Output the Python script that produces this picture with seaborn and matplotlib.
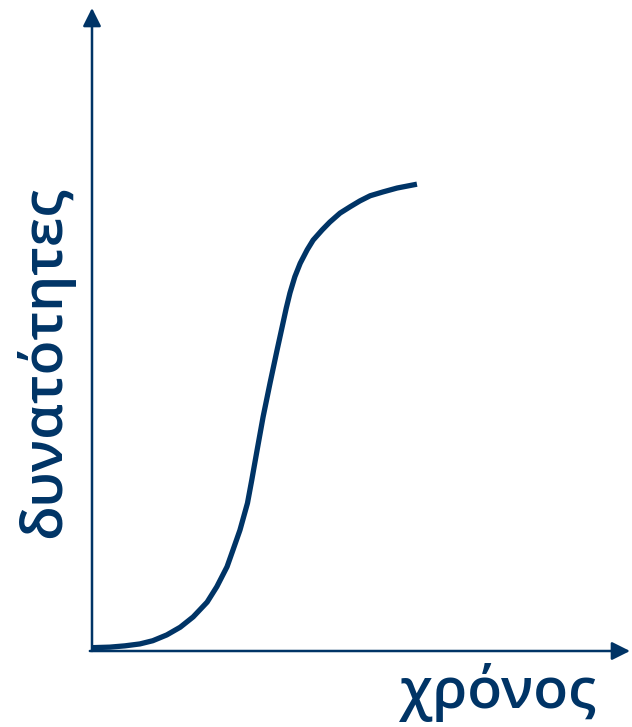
import matplotlib
matplotlib.use("Agg")
import matplotlib.pyplot as plt
import seaborn as sns
import pandas as pd

# (x: time 0-100, y: capability 0-100)
time_vals = [-0.7, 3.3, 6.1, 8.9, 11.3, 13.9, 16.4, 18.8, 21.4, 23.2, 25.1, 26.2,
             27.5, 28.9, 29.7, 30.7, 31.8, 33.1, 34.4, 35.5, 36.1, 36.8, 37.7, 38.7,
             40.0, 41.1, 42.8, 44.2, 46.1, 48.0, 49.8, 51.7, 54.1, 56.7, 60.4]
capability_vals = [0.5, 0.6, 0.8, 1.1, 1.6, 2.5, 3.7, 5.3, 7.6, 10.0, 13.1, 15.7,
                   18.8, 23.0, 26.6, 31.3, 36.4, 41.7, 46.8, 51.0, 53.3, 55.7, 58.2, 60.3,
                   62.4, 63.9, 65.5, 66.7, 68.1, 69.1, 70.0, 70.8, 71.4, 72.0, 72.6]
x_label = "χρόνος"
y_label = "δυνατότητες"

COLOR = "#003466"

sns.set_style("white")
plt.rcParams["font.family"] = ["Open Sans", "DejaVu Sans"]

W, H = 632, 727
fig = plt.figure(figsize=(W / 100, H / 100), dpi=100)
x0, x1 = 92, 630
y0, y1 = 651, 8
ax = fig.add_axes([x0 / W, (H - y0) / H, (x1 - x0) / W, (y0 - y1) / H])
ax.set_xlim(0, 100)
ax.set_ylim(0, 100)
ax.patch.set_alpha(0)

df = pd.DataFrame({"t": time_vals, "c": capability_vals})
sns.lineplot(data=df, x="t", y="c", ax=ax, color=COLOR, lw=3.8, sort=False,
             solid_capstyle="butt", solid_joinstyle="round")

for s in ax.spines.values():
    s.set_visible(False)
ax.set_xticks([])
ax.set_yticks([])
ax.set_xlabel("")
ax.set_ylabel("")

arrow = dict(arrowstyle="-|>,head_length=1.1,head_width=0.55", color=COLOR, lw=1.8,
             shrinkA=0, shrinkB=0)
ax.annotate("", xy=(0, 1.0), xytext=(0, 0), xycoords="axes fraction",
            arrowprops=arrow, annotation_clip=False)
ax.annotate("", xy=(1.0, 0), xytext=(-0.004, 0), xycoords="axes fraction",
            arrowprops=arrow, annotation_clip=False)

fig.text(498 / W, 1 - 692 / H, x_label, color=COLOR, fontsize=41, fontweight="semibold",
         ha="center", va="center")
fig.text(45 / W, 1 - 362 / H, y_label, color=COLOR, fontsize=41, fontweight="semibold",
         ha="center", va="center", rotation=90)

fig.savefig("out.png", dpi=100)
